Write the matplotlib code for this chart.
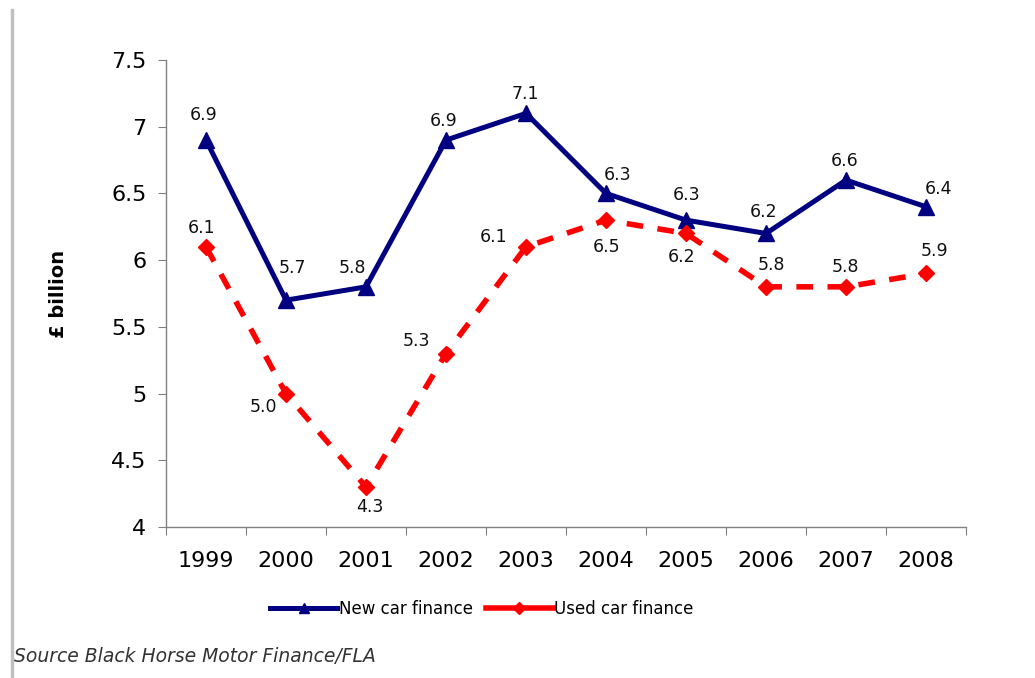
import numpy as np
import matplotlib
matplotlib.use("Agg")
import matplotlib.pyplot as plt
from matplotlib.lines import Line2D

# data
years = ['1999', '2000', '2001', '2002', '2003', '2004', '2005', '2006', '2007', '2008']
new_car = [6.9, 5.7, 5.8, 6.9, 7.1, 6.5, 6.3, 6.2, 6.6, 6.4]
used_car = [6.1, 5.0, 4.3, 5.3, 6.1, 6.3, 6.2, 5.8, 5.8, 5.9]
# data labels as printed on the original chart
new_labels = ['6.9', '5.7', '5.8', '6.9', '7.1', '6.3', '6.3', '6.2', '6.6', '6.4']
used_labels = ['6.1', '5.0', '4.3', '5.3', '6.1', '6.5', '6.2', '5.8', '5.8', '5.9']

# label offsets in pixels (dx, dy with y down)
new_off = [(-2, -25), (6, -32), (-14, -19), (-2, -19), (-1, -19),
           (12, -18), (1, -25), (-2, -21), (-1, -19), (12, -18)]
used_off = [(-4, -19), (-23, 13), (4, 20), (-30, -13), (-32, -10),
            (1, 27), (-4, 24), (5, -22), (-1, -20), (9, -22)]

navy = '#000080'
red = '#ff0000'

fig = plt.figure(figsize=(10.35, 6.78), dpi=100)
ax = fig.add_axes([166 / 1035, 1 - 527 / 678, 800 / 1035, 467 / 678])

x = np.arange(len(years))
ax.plot(x, new_car, color=navy, lw=3.6, marker='^', markersize=11, solid_joinstyle='miter')
ax.plot(x, used_car, color=red, lw=4, marker='D', markersize=8.5, linestyle=(0, (3, 2.6)))

for i in range(len(years)):
    dx, dy = new_off[i]
    ax.annotate(new_labels[i], (x[i], new_car[i]), xytext=(dx * 0.72, -dy * 0.72),
                textcoords='offset points', ha='center', va='center', fontsize=12.5, color='#111111')
    dx, dy = used_off[i]
    ax.annotate(used_labels[i], (x[i], used_car[i]), xytext=(dx * 0.72, -dy * 0.72),
                textcoords='offset points', ha='center', va='center', fontsize=12.5, color='#111111')

ax.set_xlim(-0.5, len(years) - 0.5)
ax.set_ylim(4, 7.5)
ax.set_yticks(np.arange(4, 7.51, 0.5))
ax.set_yticklabels(['%g' % v for v in np.arange(4, 7.51, 0.5)])
ax.set_xticks(np.arange(-0.5, len(years), 1))
ax.set_xticklabels([])
ax.set_xticks(x, minor=True)
ax.set_xticklabels(years, minor=True)
ax.tick_params(axis='x', which='major', length=6, direction='out', color='#808080')
ax.tick_params(axis='x', which='minor', length=0, pad=17, labelsize=16)
ax.tick_params(axis='y', length=6, direction='out', color='#808080', labelsize=16, pad=8)

for s in ['top', 'right']:
    ax.spines[s].set_visible(False)
for s in ['left', 'bottom']:
    ax.spines[s].set_color('#808080')
    ax.spines[s].set_linewidth(1)

ax.set_ylabel('£ billion', fontsize=14, fontweight='bold')
ax.yaxis.set_label_coords((68 - 166) / 800, 0.5)

handles = [Line2D([], [], color=navy, lw=3.6, marker='^', markersize=7),
           Line2D([], [], color=red, lw=4, marker='D', markersize=6)]
ax.legend(handles, ['New car finance', 'Used car finance'], loc='center',
          bbox_to_anchor=(0.395, (609 - 527) / -467), ncol=2, frameon=False,
          fontsize=12, handlelength=4.0, handletextpad=0.1, columnspacing=0.8,
          borderaxespad=0)

fig.text(14 / 1035, 1 - 657 / 678, 'Source Black Horse Motor Finance/FLA', fontsize=13.5,
         style='italic', color='#333333', va='center', ha='left')

fig.add_artist(Line2D([12 / 1035, 12 / 1035], [0, 1 - 10 / 678], color='#c0c0c0', lw=2.5))

fig.savefig('out.png', dpi=100)
